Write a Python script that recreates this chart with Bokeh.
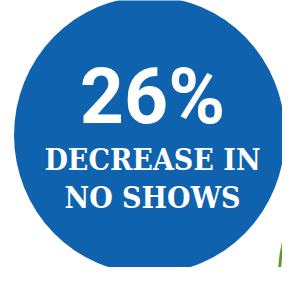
from bokeh.plotting import figure
from bokeh.models import Range1d
from bokeh.core.properties import value
from bokeh.embed import file_html
from bokeh.resources import INLINE

# Data
stat_value = [26]
stat_unit = ["%"]
caption_lines = ["DECREASE IN", "NO SHOWS"]

BLUE = "#0F62AD"
GREEN = "#5C9A2E"
FONT = "Roboto"
CAP_FONT = "DejaVu Serif Condensed"

W, H = 282, 267
p = figure(width=W, height=H, output_backend="svg", toolbar_location=None,
           x_range=Range1d(8, 8 + W), y_range=Range1d(8 + H, 8),
           min_border=0, background_fill_color="white", border_fill_color="white")
p.axis.visible = False
p.grid.visible = False
p.outline_line_color = None

# Big blue disc
p.ellipse(x=[157], y=[142.5], width=[271], height=[277],
          fill_color=BLUE, line_color=None)

# Green sliver of a neighbouring ring (bottom right)
p.ellipse(x=[430], y=[283], width=[286], height=[286],
          fill_color=None, line_color=GREEN, line_width=3)

cx = 160
labels = [f"{v}{u}" for v, u in zip(stat_value, stat_unit)]
p.text(x=[cx], y=[104], text=labels, text_color="white",
       text_font=value(FONT), text_font_style="bold", text_font_size="77px",
       text_align="center", text_baseline="alphabetic")
p.text(x=[cx] * len(caption_lines), y=[167, 205], text=caption_lines,
       text_color="white", text_font=value(CAP_FONT), text_font_style="bold",
       text_font_size="30px", text_align="center", text_baseline="alphabetic")

open("out.html", "w").write(file_html(p, INLINE))
